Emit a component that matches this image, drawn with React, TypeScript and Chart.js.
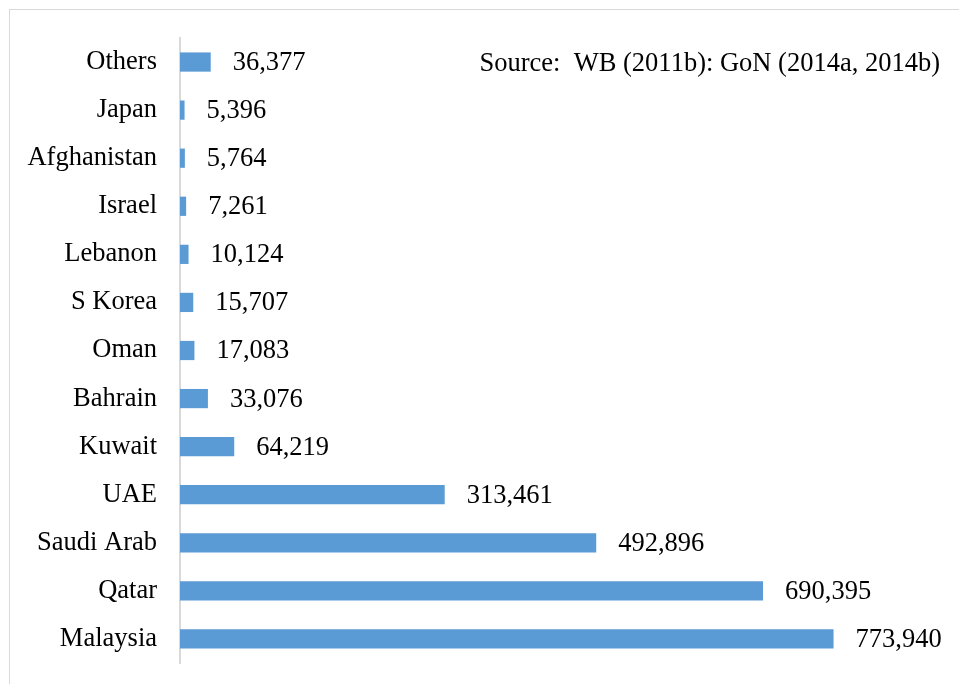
import React, { useEffect, useRef } from "react";
import { Chart, registerables } from "chart.js";

Chart.register(...registerables);

const categories = [
  "Others",
  "Japan",
  "Afghanistan",
  "Israel",
  "Lebanon",
  "S Korea",
  "Oman",
  "Bahrain",
  "Kuwait",
  "UAE",
  "Saudi Arab",
  "Qatar",
  "Malaysia",
];

const workers = [
  36377, 5396, 5764, 7261, 10124, 15707, 17083, 33076, 64219, 313461, 492896,
  690395, 773940,
];

const sourceText = "Source:  WB (2011b): GoN (2014a, 2014b)";

const FONT = "'Liberation Serif', 'Times New Roman', serif";

const labelPlugin = {
  id: "barLabels",
  afterDatasetsDraw(chart: any) {
    const ctx = chart.ctx;
    const meta = chart.getDatasetMeta(0);
    ctx.save();
    ctx.font = `26.5px ${FONT}`;
    ctx.fillStyle = "#000000";
    ctx.textAlign = "left";
    ctx.textBaseline = "middle";
    meta.data.forEach((bar: any, i: number) => {
      const v = workers[i];
      ctx.fillText(v.toLocaleString("en-US"), bar.x + 22, bar.y + 1);
    });
    ctx.restore();
  },
};

const sourcePlugin = {
  id: "sourceText",
  afterDraw(chart: any) {
    const ctx = chart.ctx;
    ctx.save();
    ctx.font = `26.5px ${FONT}`;
    ctx.fillStyle = "#000000";
    ctx.textAlign = "right";
    ctx.textBaseline = "alphabetic";
    ctx.fillText(sourceText, 940, 71);
    ctx.restore();
  },
};

export default function App() {
  const canvasRef = useRef<HTMLCanvasElement | null>(null);

  useEffect(() => {
    if (!canvasRef.current) return;
    const chart = new Chart(canvasRef.current, {
      type: "bar",
      data: {
        labels: categories,
        datasets: [
          {
            data: workers,
            backgroundColor: "#5B9BD5",
            borderWidth: 0,
            categoryPercentage: 0.8,
            barPercentage: 0.5,
          },
        ],
      },
      options: {
        indexAxis: "y",
        responsive: false,
        animation: false,
        maintainAspectRatio: false,
        layout: { padding: { top: 38, bottom: 21, right: 19, left: 0 } },
        plugins: {
          legend: { display: false },
          tooltip: { enabled: false },
          title: { display: false },
        },
        scales: {
          x: {
            display: false,
            min: 0,
            max: 900000,
            grid: { display: false },
          },
          y: {
            afterFit(scale: any) {
              scale.width = 180;
              scale.paddingTop = 0;
              scale.paddingBottom = 0;
            },
            grid: { display: false, drawTicks: false },
            border: { display: true, color: "#d9d9d9", width: 2 },
            ticks: {
              padding: 23,
              color: "#000000",
              font: { family: FONT, size: 26.5 },
            },
          },
        },
      } as any,
      plugins: [labelPlugin, sourcePlugin],
    });
    return () => chart.destroy();
  }, []);

  return (
    <div
      style={{
        position: "absolute",
        left: 0,
        top: 0,
        width: 959,
        height: 684,
        overflow: "hidden",
        background: "#ffffff",
      }}
    >
      <div
        style={{
          position: "absolute",
          left: 9,
          top: 9,
          width: 1000,
          height: 1000,
          border: "1px solid #d9d9d9",
          boxSizing: "border-box",
        }}
      />
      <canvas
        ref={canvasRef}
        width={959}
        height={684}
        style={{ position: "absolute", left: 0, top: 0 }}
      />
    </div>
  );
}
